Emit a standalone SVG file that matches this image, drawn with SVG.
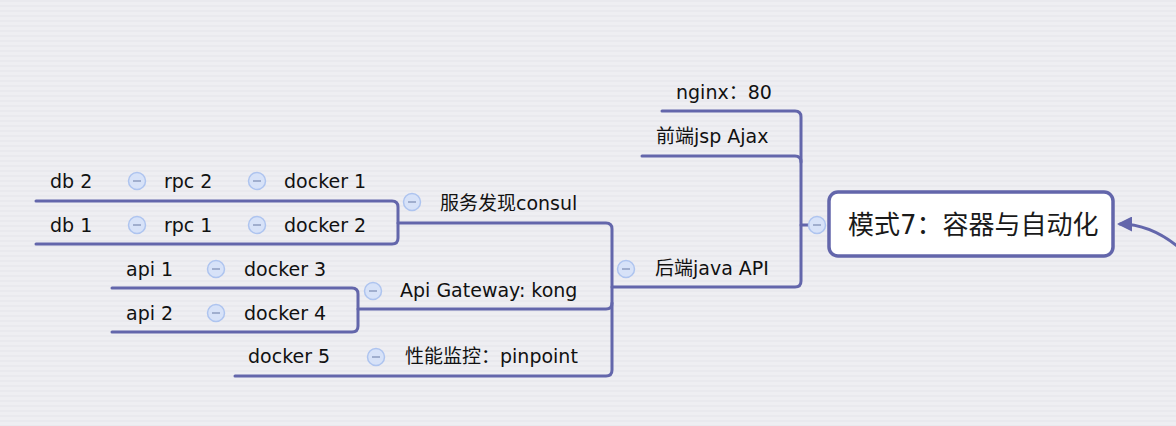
<svg xmlns="http://www.w3.org/2000/svg" width="1176" height="426" viewBox="0 0 1176 426">
  <defs>
    <pattern id="bg" width="8" height="5" patternUnits="userSpaceOnUse">
      <rect width="8" height="5" fill="#eeeef2"/>
      <rect y="0" width="8" height="2" fill="#e9e9ee"/>
    </pattern>
    <marker id="arrow" viewBox="0 0 10 10" refX="8" refY="5" markerWidth="5" markerHeight="5" orient="auto" markerUnits="strokeWidth">
      <path d="M0,0 L10,5 L0,10 z" fill="#6366ab"/>
    </marker>
    <g id="minus">
      <circle r="8.5" fill="#d7e2f8" stroke="#aec4ef" stroke-width="1.5"/>
      <line x1="-4" y1="0" x2="4" y2="0" stroke="#8e9cc0" stroke-width="1.5"/>
    </g>
  </defs>
  <style>
    .ln { fill: none; stroke: #6366ab; stroke-width: 3; stroke-linecap: round; stroke-linejoin: round; }
    .t { font-family: "DejaVu Sans", "Noto Sans CJK SC", sans-serif; font-size: 19px; fill: #111; }
    .root { font-family: "DejaVu Sans", "Noto Sans CJK SC", sans-serif; font-size: 26px; fill: #1a1a1a; }
  </style>
  <rect width="1176" height="426" fill="url(#bg)"/>

  <g id="connectors">
    <path class="ln" d="M1182,250 Q1152,224 1120,224" marker-end="url(#arrow)"/>
    <path class="ln" d="M809,225 H801"/>
    <path class="ln" d="M662,111 H795 Q801,111 801,117 V281 Q801,287 795,287 H612"/>
    <path class="ln" d="M642,156 H795 Q801,156 801,162"/>
    <path class="ln" d="M398,223 H606 Q612,223 612,229 V370 Q612,376 606,376 H235"/>
    <path class="ln" d="M358,309 H606 Q612,309 612,303"/>
    <path class="ln" d="M36,201 H392 Q398,201 398,207 V238 Q398,244 392,244 H36"/>
    <path class="ln" d="M112,288 H352 Q358,288 358,294 V326 Q358,332 352,332 H112"/>
  </g>

  <g id="root">
    <rect x="829" y="192" width="284" height="64" rx="9" fill="#ffffff" stroke="#6366ab" stroke-width="3.5"/>
    <text class="root" x="848" y="234">模式7：容器与自动化</text>
    <use href="#minus" x="817" y="225"/>
  </g>

  <g id="nginx"><text class="t" x="676" y="99">nginx：80</text></g>
  <g id="frontend"><text class="t" x="656" y="143">前端jsp Ajax</text></g>
  <g id="backend">
    <text class="t" x="655" y="275">后端java API</text>
    <use href="#minus" x="626" y="269"/>
  </g>

  <g id="consul">
    <text class="t" x="440" y="210">服务发现consul</text>
    <use href="#minus" x="412" y="202"/>
  </g>
  <g id="docker1">
    <text class="t" x="284" y="188">docker 1</text>
    <use href="#minus" x="257" y="181"/>
  </g>
  <g id="rpc2">
    <text class="t" x="164" y="188">rpc 2</text>
    <use href="#minus" x="137" y="181"/>
  </g>
  <g id="db2"><text class="t" x="50" y="188">db 2</text></g>
  <g id="docker2">
    <text class="t" x="284" y="232">docker 2</text>
    <use href="#minus" x="257" y="225"/>
  </g>
  <g id="rpc1">
    <text class="t" x="164" y="232">rpc 1</text>
    <use href="#minus" x="137" y="225"/>
  </g>
  <g id="db1"><text class="t" x="50" y="232">db 1</text></g>

  <g id="gateway">
    <text class="t" x="400" y="297">Api Gateway: kong</text>
    <use href="#minus" x="373" y="291"/>
  </g>
  <g id="docker3">
    <text class="t" x="244" y="276">docker 3</text>
    <use href="#minus" x="216" y="269"/>
  </g>
  <g id="api1"><text class="t" x="126" y="276">api 1</text></g>
  <g id="docker4">
    <text class="t" x="244" y="320">docker 4</text>
    <use href="#minus" x="216" y="313"/>
  </g>
  <g id="api2"><text class="t" x="126" y="320">api 2</text></g>

  <g id="pinpoint">
    <text class="t" x="405" y="363">性能监控：pinpoint</text>
    <use href="#minus" x="376" y="357"/>
  </g>
  <g id="docker5"><text class="t" x="248" y="363">docker 5</text></g>
</svg>
